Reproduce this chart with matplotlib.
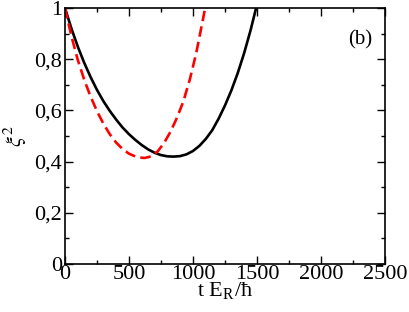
import matplotlib
matplotlib.use("Agg")
import matplotlib.pyplot as plt
from matplotlib.ticker import MultipleLocator, FuncFormatter

# Data
t_black = [0, 50, 100, 150, 200, 250, 300, 350, 400, 450, 500, 550, 600, 650, 700,
           750, 800, 850, 900, 950, 1000, 1050, 1100, 1150, 1200, 1250, 1300, 1350,
           1400, 1450, 1493]
xi_black = [1.0, 0.92, 0.849, 0.786, 0.730, 0.680, 0.636, 0.598, 0.564, 0.533,
            0.507, 0.4845, 0.4645, 0.4475, 0.4345, 0.4255, 0.4205, 0.4195, 0.4215,
            0.4285, 0.4415, 0.4615, 0.4885, 0.5225, 0.5675, 0.6195, 0.6785, 0.7465,
            0.8245, 0.9135, 1.0]

t_red = [0, 50, 100, 150, 200, 250, 300, 350, 400, 450, 500, 550, 600, 625, 675,
         725, 775, 825, 875, 925, 975, 1025, 1075, 1095]
xi_red = [1.0, 0.89, 0.797, 0.72, 0.654, 0.597, 0.548, 0.507, 0.474, 0.449, 0.431,
          0.42, 0.415, 0.4145, 0.4205, 0.4405, 0.4735, 0.5175, 0.5715, 0.6355,
          0.7205, 0.8235, 0.9485, 1.0]

x_ticks = [0, 500, 1000, 1500, 2000, 2500]
y_ticks = [0, 0.2, 0.4, 0.6, 0.8, 1.0]

plt.rcParams['font.family'] = ['Liberation Serif', 'DejaVu Serif']
plt.rcParams['mathtext.fontset'] = 'stix'

fig = plt.figure(figsize=(4.09, 3.12), dpi=100)
ax = fig.add_axes([65/409, 48/312, 320/409, 256/312])

ax.plot(t_black, xi_black, color='black', lw=1.9, solid_joinstyle='round')
ax.plot(t_red, xi_red, color='red', lw=1.9, dashes=(4, 2))

ax.set_xlim(0, 2500)
ax.set_ylim(0, 1)
ax.set_xticks(x_ticks)
ax.set_yticks(y_ticks)
ax.xaxis.set_minor_locator(MultipleLocator(250))
ax.yaxis.set_minor_locator(MultipleLocator(0.1))

def yfmt(v, pos):
    if abs(v) < 1e-9:
        return "0"
    if abs(v - 1) < 1e-9:
        return "1"
    return ("%.1f" % v).replace('.', ',')
ax.yaxis.set_major_formatter(FuncFormatter(yfmt))

ax.tick_params(which='both', direction='in', top=True, right=True, labelsize=16, width=1.0)
ax.tick_params(which='major', length=6)
ax.tick_params(axis='x', which='major', pad=1)
ax.tick_params(axis='y', which='major', pad=2)
ax.tick_params(which='minor', length=3)
for s in ax.spines.values():
    s.set_linewidth(1.2)

ax.set_xlabel(r"t E$_\mathregular{R}$/ħ", fontsize=16, labelpad=-3)
ax.set_ylabel(r"$\xi^2$", fontsize=16, labelpad=4)
ax.text(2310, 0.875, "(b)", fontsize=15, ha='center', va='center')

fig.savefig("out.png", dpi=100)
